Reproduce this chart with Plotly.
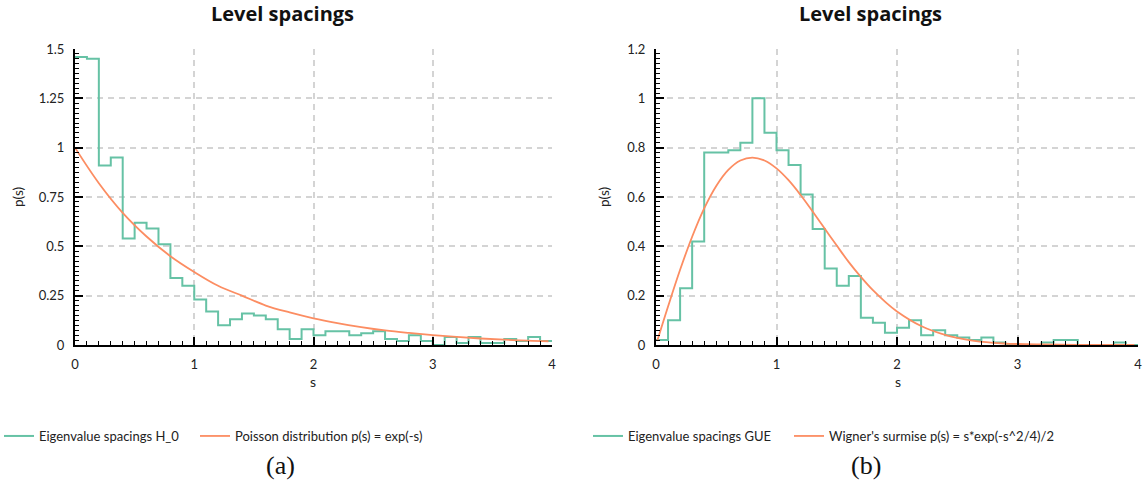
import plotly.graph_objects as go

W, H = 1147, 486

# ---------------- data ----------------
bin_edges = [round(0.1 * i, 1) for i in range(41)]

h0_counts = [1.46, 1.45, 0.91, 0.95, 0.54, 0.62, 0.59, 0.51, 0.34, 0.30,
             0.23, 0.17, 0.10, 0.13, 0.16, 0.15, 0.13, 0.08, 0.03, 0.08,
             0.05, 0.07, 0.07, 0.05, 0.06, 0.07, 0.03, 0.02, 0.05, 0.02,
             0.00, 0.04, 0.01, 0.04, 0.01, 0.01, 0.03, 0.02, 0.04, 0.02]

gue_counts = [0.02, 0.10, 0.23, 0.42, 0.78, 0.78, 0.79, 0.82, 1.00, 0.86,
              0.79, 0.73, 0.61, 0.47, 0.31, 0.24, 0.28, 0.11, 0.09, 0.05,
              0.07, 0.10, 0.04, 0.06, 0.04, 0.03, 0.02, 0.03, 0.01, 0.00,
              0.00, 0.00, 0.01, 0.02, 0.02, 0.00, 0.00, 0.00, 0.01, 0.00]

poisson_s = [0.0, 0.2, 0.4, 0.6, 0.8, 1.0, 1.2, 1.4, 1.6, 1.8, 2.0,
             2.2, 2.4, 2.6, 2.8, 3.0, 3.2, 3.4, 3.6, 3.8, 3.97]
poisson_p = [1.00, 0.82, 0.67, 0.55, 0.45, 0.37, 0.30, 0.25, 0.20, 0.165, 0.135,
             0.111, 0.091, 0.074, 0.061, 0.050, 0.041, 0.033, 0.027, 0.022, 0.019]

wigner_s = [0.01, 0.1, 0.2, 0.3, 0.4, 0.5, 0.6, 0.7, 0.8, 0.9, 1.0,
            1.1, 1.2, 1.3, 1.4, 1.5, 1.6, 1.7, 1.8, 1.9, 2.0,
            2.2, 2.4, 2.6, 2.8, 3.0, 3.2, 3.5, 3.97]
wigner_p = [0.016, 0.156, 0.305, 0.439, 0.554, 0.645, 0.710, 0.748, 0.760, 0.748, 0.716,
            0.668, 0.608, 0.541, 0.472, 0.403, 0.336, 0.276, 0.222, 0.176, 0.136,
            0.077, 0.041, 0.020, 0.009, 0.004, 0.002, 0.0003, 0.0]

left_yticks = [0, 0.25, 0.5, 0.75, 1, 1.25, 1.5]
left_yticklabels = ["0", "0.25", "0.5", "0.75", "1", "1.25", "1.5"]
right_yticks = [0, 0.2, 0.4, 0.6, 0.8, 1.0, 1.2]
right_yticklabels = ["0", "0.2", "0.4", "0.6", "0.8", "1", "1.2"]
xticks = [0, 1, 2, 3, 4]

names = ["Eigenvalue spacings H_0", "Poisson distribution p(s) = exp(-s)",
         "Eigenvalue spacings GUE", "Wigner's surmise p(s) = s*exp(-s^2/4)/2"]
captions = ["(a)", "(b)"]
title_text = "Level spacings"

GREEN = "#66c2a5"
ORANGE = "#fc8d62"
FONT = "Lato"

def px(x):
    return x / W

def py(y):
    return 1 - y / H

# ---------------- figure ----------------
fig = go.Figure()

fig.add_trace(go.Scatter(x=bin_edges, y=h0_counts + [h0_counts[-1]], mode="lines",
                         line=dict(color=GREEN, width=2, shape="hv"),
                         name=names[0], xaxis="x", yaxis="y", legend="legend"))
fig.add_trace(go.Scatter(x=poisson_s, y=poisson_p, mode="lines",
                         line=dict(color=ORANGE, width=1.8, shape="spline"),
                         name=names[1], xaxis="x", yaxis="y", legend="legend2"))
fig.add_trace(go.Scatter(x=bin_edges, y=gue_counts + [gue_counts[-1]], mode="lines",
                         line=dict(color=GREEN, width=2, shape="hv"),
                         name=names[2], xaxis="x2", yaxis="y2", legend="legend3"))
fig.add_trace(go.Scatter(x=wigner_s, y=wigner_p, mode="lines",
                         line=dict(color=ORANGE, width=1.8, shape="spline"),
                         name=names[3], xaxis="x2", yaxis="y2", legend="legend4"))

grid = dict(showgrid=True, gridcolor="#d4d4d4", gridwidth=1.5, griddash="6px,5px")
axis_common = dict(showline=True, linecolor="black", linewidth=2, zeroline=False,
                   automargin=False, ticklabelstandoff=6,
                   ticks="inside", ticklen=8, tickwidth=1.6, tickcolor="black",
                   tickfont=dict(family=FONT, size=13, color="#222"), **grid)

ydom = [py(345), py(49)]
fig.update_layout(
    width=W, height=H, margin=dict(l=0, r=0, t=0, b=0, autoexpand=False),
    paper_bgcolor="white", plot_bgcolor="white", showlegend=True,
    xaxis=dict(domain=[px(75), px(552)], range=[0, 4], tickvals=xticks, anchor="y",
               minor=dict(dtick=0.1, ticks="inside", ticklen=4, tickwidth=1.4,
                          tickcolor="black", showgrid=False),
               **axis_common),
    yaxis=dict(domain=ydom, range=[0, 1.5], tickvals=left_yticks,
               ticktext=left_yticklabels, anchor="x",
               minor=dict(dtick=0.025, ticks="inside", ticklen=4, tickwidth=1.4,
                          tickcolor="black", showgrid=False),
               **axis_common),
    xaxis2=dict(domain=[px(656), px(1138)], range=[0, 4], tickvals=xticks, anchor="y2",
                minor=dict(dtick=0.1, ticks="inside", ticklen=4, tickwidth=1.4,
                           tickcolor="black", showgrid=False),
                **axis_common),
    yaxis2=dict(domain=ydom, range=[0, 1.2], tickvals=right_yticks,
                ticktext=right_yticklabels, anchor="x2",
                minor=dict(dtick=0.02, ticks="inside", ticklen=4, tickwidth=1.4,
                           tickcolor="black", showgrid=False),
                **axis_common),
)

leg_font = dict(family=FONT, size=13, color="#222")
leg_common = dict(orientation="h", yanchor="middle", xanchor="left", font=leg_font,
                  bgcolor="rgba(0,0,0,0)", itemwidth=30, tracegroupgap=0)
fig.update_layout(
    legend=dict(x=px(-1), y=py(436), **leg_common),
    legend2=dict(x=px(195), y=py(436), **leg_common),
    legend3=dict(x=px(588), y=py(436), **leg_common),
    legend4=dict(x=px(789), y=py(436), **leg_common),
)

ann = []
for cx in (282, 870):
    ann.append(dict(x=px(cx), y=py(14), xref="paper", yref="paper", text=f"<b>{title_text}</b>",
                    showarrow=False, font=dict(family="Open Sans", size=20, color="#111"),
                    xanchor="center", yanchor="middle"))
for cx in (18, 604):
    ann.append(dict(x=px(cx), y=py(197), xref="paper", yref="paper", text="p(s)",
                    showarrow=False, textangle=-90, font=dict(family=FONT, size=13.5, color="#222"),
                    xanchor="center", yanchor="middle"))
for cx in (313, 898):
    ann.append(dict(x=px(cx), y=py(381), xref="paper", yref="paper", text="s",
                    showarrow=False, font=dict(family=FONT, size=14, color="#222"),
                    xanchor="center", yanchor="middle"))
for cx, cap in zip((280, 866), captions):
    ann.append(dict(x=px(cx), y=py(465), xref="paper", yref="paper", text=cap,
                    showarrow=False, font=dict(family="Liberation Serif", size=26, color="#111"),
                    xanchor="center", yanchor="middle"))
fig.update_layout(annotations=ann)

fig.write_html("out.html", config={"displayModeBar": False},
               post_script="document.body.style.margin='0';document.body.style.padding='0';")
